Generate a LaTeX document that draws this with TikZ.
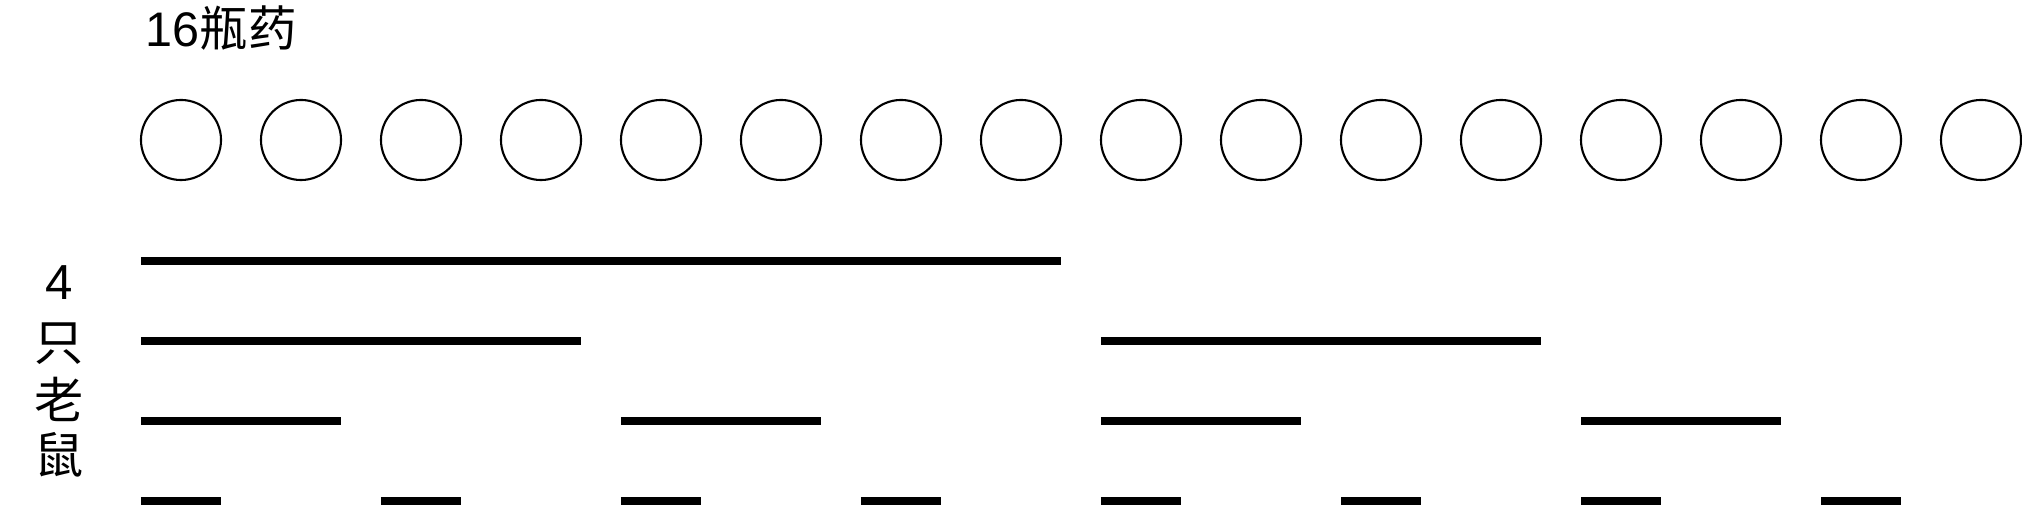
\documentclass[tikz,border=0pt]{standalone}
\usepackage{fontspec}
\setmainfont{Liberation Sans}
\newfontfamily\cjk{Noto Sans CJK SC}
\usepackage{tikz}

\tikzset{
	bottle/.style={draw, circle, line width=0.6pt, minimum size=0.8cm, inner sep=0, outer sep=0},
	mousebar/.style={line width=0.08cm},
	mouselabel/.style={anchor=base, inner sep=0, font=\fontsize{14pt}{17pt}\selectfont}
}

\begin{document}
\begin{tikzpicture}[x=0.01cm, y=-0.01cm]
			\useasboundingbox (0, 0) rectangle (2022, 522);
			\node[anchor=base west, inner sep=0, font=\fontsize{13.8pt}{16pt}\selectfont] (title) at (145, 47) {16{\cjk 瓶药}};
			\foreach \i in {1, ..., 16}
				\node[bottle] (b\i) at (61 + 120*\i, 140) {};
			\foreach \r/\y in {1/261, 2/341, 3/421, 4/501}
				\coordinate (r\r) at (0, \y);
			\foreach \r/\a/\b in {1/1/8, 2/1/4, 2/9/12, 3/1/2, 3/5/6, 3/9/10, 3/13/14, 4/1/1, 4/3/3, 4/5/5, 4/7/7, 4/9/9, 4/11/11, 4/13/13, 4/15/15}
				\draw[mousebar] (b\a.west |- r\r) -- (b\b.east |- r\r);
			\foreach \c/\y [count=\i] in {4/300, {\cjk 只}/361, {\cjk 老}/419, {\cjk 鼠}/474}
				\node[mouselabel] (m\i) at (59, \y) {\c};
		\end{tikzpicture}
\end{document}
